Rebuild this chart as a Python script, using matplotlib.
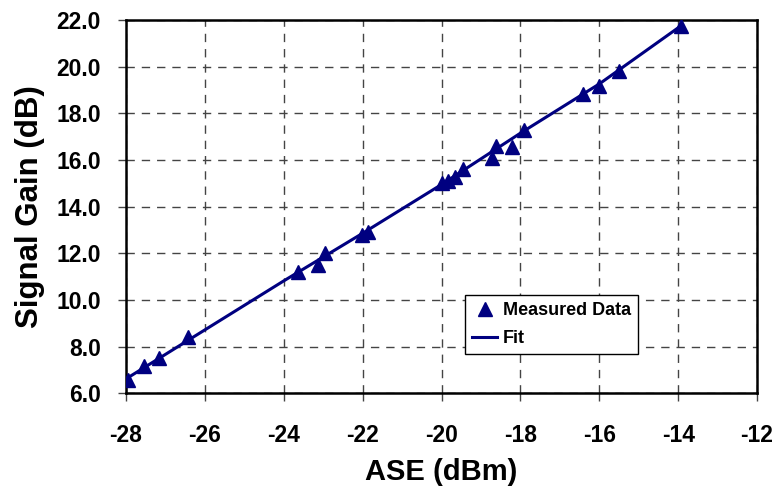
import numpy as np
import matplotlib.pyplot as plt

# measured points (ASE dBm, gain dB)
ase = [-27.94, -27.54, -27.16, -26.44, -23.63, -23.12, -22.95, -22.01, -21.86,
       -20.0, -19.83, -19.66, -19.45, -18.73, -18.62, -18.22, -17.91,
       -16.42, -16.01, -15.50, -13.93]
gain = [6.57, 7.17, 7.53, 8.40, 11.21, 11.50, 12.00, 12.79, 12.93,
        15.03, 15.11, 15.27, 15.60, 16.07, 16.60, 16.54, 17.29,
        18.82, 19.17, 19.83, 21.75]

# fit line
fit_x = [-28.0, -24.0, -22.0, -20.0, -18.0, -16.0, -13.93]
fit_y = [6.62, 10.82, 12.86, 14.95, 17.15, 19.26, 21.75]

xticks = np.arange(-28, -11, 2)
yticks = np.arange(6, 22.1, 2)

navy = '#000080'

plt.rcParams['font.family'] = ['Liberation Sans', 'DejaVu Sans']
plt.rcParams['font.weight'] = 'bold'

fig = plt.figure(figsize=(7.77, 4.88), dpi=100)
ax = fig.add_axes([0.1622, 0.194, 0.8121, 0.765])

ax.plot(ase, gain, linestyle='none', marker='^', markersize=10,
        color=navy, label='Measured Data', zorder=3)
ax.plot(fit_x, fit_y, color=navy, linewidth=2.2, label='Fit', zorder=4)

ax.set_xlim(-28, -12)
ax.set_ylim(6, 22)
ax.set_xticks(xticks)
ax.set_yticks(yticks)
ax.set_xticklabels([str(int(t)) for t in xticks])
ax.set_yticklabels(['%.1f' % t for t in yticks])

ax.grid(True, color='#444444', linestyle=(0, (6, 5)), linewidth=1.0)
ax.set_axisbelow(True)

for s in ax.spines.values():
    s.set_linewidth(1.8)
    s.set_color('black')

ax.tick_params(axis='x', direction='out', length=6, width=1, pad=16,
               labelsize=16.5, colors='#444444', labelcolor='black')
ax.tick_params(axis='y', direction='out', length=6, width=1, pad=12,
               labelsize=16.5, colors='#444444', labelcolor='black')

ax.set_xlabel('ASE (dBm)', fontsize=21, fontweight='bold', labelpad=8)
ax.set_ylabel('Signal Gain (dB)', fontsize=22.5, fontweight='bold', labelpad=8)

leg = ax.legend(loc='upper left', bbox_to_anchor=(0.537, 0.263),
                fontsize=13, frameon=True, fancybox=False, framealpha=1,
                edgecolor='black', handlelength=1.4, handletextpad=0.3,
                borderpad=0.4, labelspacing=0.6, borderaxespad=0)
leg.get_frame().set_linewidth(1.0)

fig.savefig('out.png', dpi=100)
